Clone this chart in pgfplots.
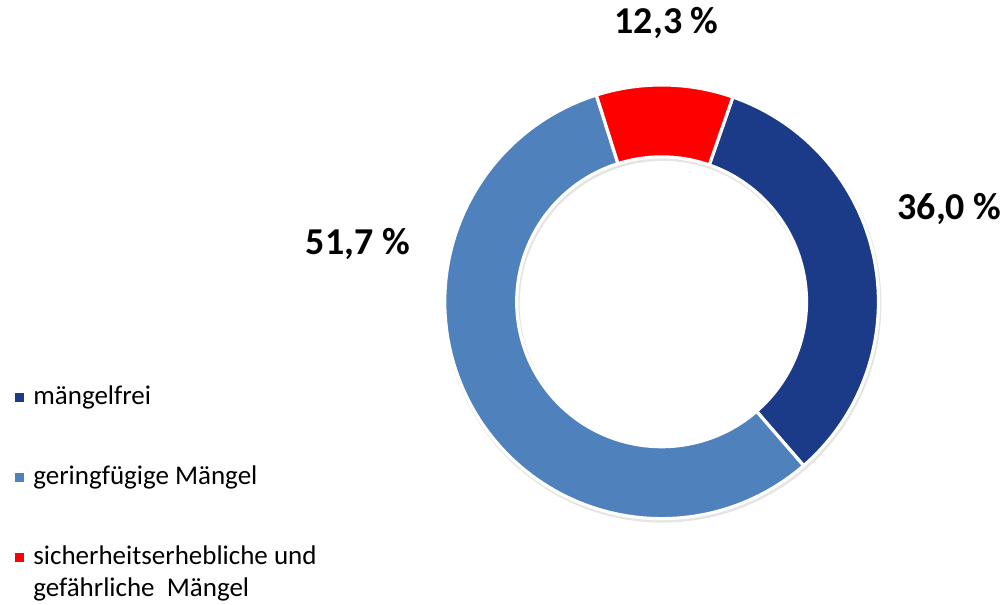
\documentclass[border=0pt]{standalone}
\usepackage{pgfplots}
\pgfplotsset{compat=1.18}
\usepackage{pgfplotstable}
\usepackage{fontspec}
\setmainfont{Carlito}
\definecolor{darkb}{HTML}{1B3A87}
\definecolor{lightb}{HTML}{4F81BD}
\definecolor{redc}{HTML}{FF0000}
\newcommand\ring[3]{%
  \fill[black,opacity=0.10] plot[domain=#2:#3,samples=90,variable=\t]({663+219*cos(\t)},{301+219*sin(\t)}) -- plot[domain=#2:#3,samples=90,variable=\t]({663+143*cos((#2)+(#3)-\t)},{301+143*sin((#2)+(#3)-\t)}) -- cycle;
  \filldraw[fill=#1,draw=white,line width=1.6pt,line join=round] plot[domain=#2:#3,samples=90,variable=\t]({662+217*cos(\t)},{303+217*sin(\t)}) -- plot[domain=#2:#3,samples=90,variable=\t]({662+145*cos((#2)+(#3)-\t)},{303+145*sin((#2)+(#3)-\t)}) -- cycle;}
\begin{document}
\begin{tikzpicture}
\pgfplotstableread{
share
33.3
56.5
10.2
}\slices
\pgfplotstablegetelem{0}{share}\of\slices \let\sA\pgfplotsretval
\pgfplotstablegetelem{1}{share}\of\slices \let\sB\pgfplotsretval
\pgfplotstablegetelem{2}{share}\of\slices \let\sC\pgfplotsretval
\pgfmathsetmacro\aA{70.8}
\pgfmathsetmacro\aB{\aA-3.6*\sA}
\pgfmathsetmacro\aC{\aB-3.6*\sB}
\pgfmathsetmacro\aD{\aC-3.6*\sC}
\begin{axis}[
  width=504pt, height=302.5pt, scale only axis,
  xmin=0, xmax=1008, ymin=0, ymax=605,
  hide axis, clip=false,
]
\path (axis cs:0,0) rectangle (axis cs:1008,605);
\ring{darkb}{\aB}{\aA}
\ring{lightb}{\aC}{\aB}
\ring{redc}{\aD}{\aC}
% labels
\node[font=\fontsize{19}{22}\selectfont\bfseries] at (axis cs:667,582) {12,3 \%};
\node[font=\fontsize{19}{22}\selectfont\bfseries] at (axis cs:950,396) {36,0 \%};
\node[font=\fontsize{19}{22}\selectfont\bfseries] at (axis cs:358,361) {51,7 \%};
% legend
\fill[darkb] (axis cs:15,203) rectangle (axis cs:24,212);
\fill[lightb] (axis cs:15,123) rectangle (axis cs:24,132);
\fill[redc] (axis cs:15,43) rectangle (axis cs:24,52);
\node[anchor=west,inner sep=0pt,font=\fontsize{13.5}{16}\selectfont] at (axis cs:33,207) {mängelfrei};
\node[anchor=west,inner sep=0pt,font=\fontsize{13.5}{16}\selectfont] at (axis cs:33,127) {geringfügige Mängel};
\node[anchor=north west,inner sep=0pt,align=left,font=\fontsize{13.5}{16}\selectfont] at (axis cs:33,59) {sicherheitserhebliche und\\gefährliche\ \ Mängel};
\end{axis}
\end{tikzpicture}
\end{document}
